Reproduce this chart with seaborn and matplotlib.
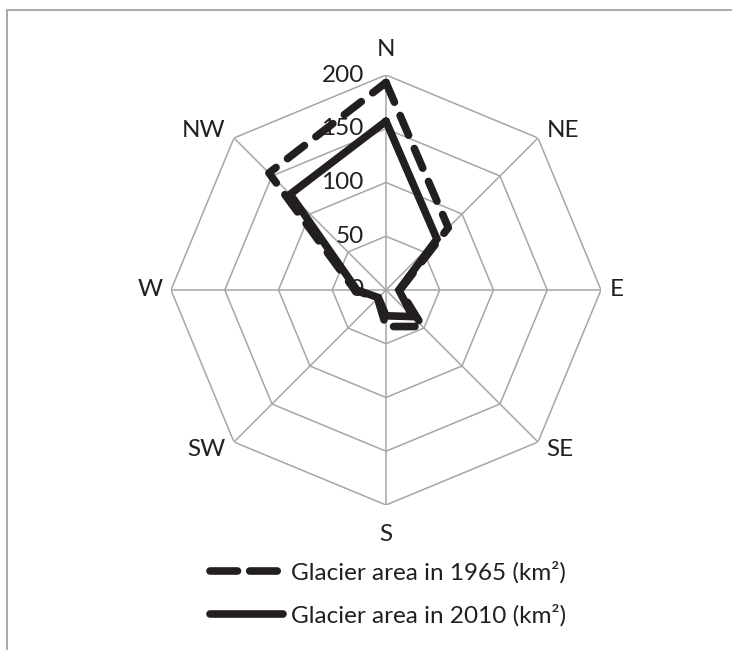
import numpy as np
import pandas as pd
import matplotlib
matplotlib.use("Agg")
import matplotlib.pyplot as plt
import seaborn as sns
from matplotlib.patches import Rectangle

# values (km²)
directions = ["N", "NE", "E", "SE", "S", "SW", "W", "NW"]
area_1965 = [193, 82, 13, 48, 34, 11, 29, 154]
area_2010 = [157, 67, 12, 35, 24, 10, 27, 126]
ring_levels = [50, 100, 150, 200]
r_labels = [0, 50, 100, 150, 200]

sns.set_theme(style="white")
plt.rcParams["font.family"] = ["Lato", "DejaVu Sans"]

text_col = "#231f20"
grid_col = "#a6a6a6"
line_col = "#231f20"
fs = 17.5

angles = np.linspace(0, 2 * np.pi, len(directions), endpoint=False)
closed = np.append(angles, angles[0])

fig = plt.figure(figsize=(7.32, 6.5), dpi=100)
ax = fig.add_axes([0.2336, 0.2231, 0.5874, 0.6615], projection="polar")
ax.set_theta_zero_location("N")
ax.set_theta_direction(-1)
ax.set_ylim(0, 200)
ax.grid(False)
ax.spines["polar"].set_visible(False)
ax.set_facecolor("none")

# octagon rings and spokes
for lvl in ring_levels:
    ax.plot(closed, [lvl] * len(closed), color=grid_col, lw=1.1, zorder=1)
for a in angles:
    ax.plot([a, a], [0, 200], color=grid_col, lw=1.1, zorder=1)

df = pd.DataFrame({
    "angle": np.concatenate([closed, closed]),
    "area": area_1965 + area_1965[:1] + area_2010 + area_2010[:1],
    "series": ["Glacier area in 1965 (km²)"] * len(closed)
              + ["Glacier area in 2010 (km²)"] * len(closed),
})

sns.lineplot(data=df[df.series.str.contains("1965")], x="angle", y="area",
             sort=False, estimator=None, ax=ax, color=line_col, lw=5.5,
             label="Glacier area in 1965 (km²)", zorder=3)
ax.lines[-1].set_dashes([2.8, 1.9])
ax.lines[-1].set_dash_capstyle("round")
sns.lineplot(data=df[df.series.str.contains("2010")], x="angle", y="area",
             sort=False, estimator=None, ax=ax, color=line_col, lw=5.5,
             label="Glacier area in 2010 (km²)", zorder=4)
ax.lines[-1].set_solid_capstyle("round")
ax.lines[-1].set_solid_joinstyle("miter")

ax.set_xlabel("")
ax.set_ylabel("")
ax.set_xticks([])
ax.set_yticks([])

# direction labels just outside the outer ring, Excel style
for a, name in zip(angles, directions):
    s, c = np.sin(a), np.cos(a)
    if abs(s) < 0.1:
        ha, dx = "center", 0
    else:
        ha, dx = ("left", 6) if s > 0 else ("right", -6)
    if abs(c) > 0.9:
        va, dy = ("baseline", 14) if c > 0 else ("top", -14)
    elif abs(c) < 0.1:
        va, dy = "center", 0
    else:
        va, dy = ("baseline", 1) if c > 0 else ("top", 2)
    ax.annotate(name, xy=(a, 200), xytext=(dx, dy), textcoords="offset points",
                ha=ha, va=va, fontsize=fs, color=text_col, annotation_clip=False)

for v in r_labels:
    ax.annotate(str(v), xy=(0, v), xytext=(-16, 0), textcoords="offset points",
                ha="right", va="center", fontsize=fs, color=text_col, zorder=2)

handles, labels = ax.get_legend_handles_labels()
ax.get_legend().remove()
leg = fig.legend(handles, labels, loc="upper center", bbox_to_anchor=(0.53, 0.171),
                 frameon=False, fontsize=fs, handlelength=3.0, handletextpad=0.35,
                 labelspacing=0.85)
leg_lines = leg.get_lines()
leg_lines[0].set_dashes([3.6, 1.6])
leg_lines[0].set_dash_capstyle("round")
leg_lines[1].set_solid_capstyle("round")
for t in leg.get_texts():
    t.set_color(text_col)

fig.patches.append(Rectangle((7 / 732, -0.1), 2, 1.1 - 10 / 650,
                             transform=fig.transFigure, fill=False,
                             edgecolor="#9c9c9c", lw=1.2))

fig.savefig("out.png", dpi=100)
